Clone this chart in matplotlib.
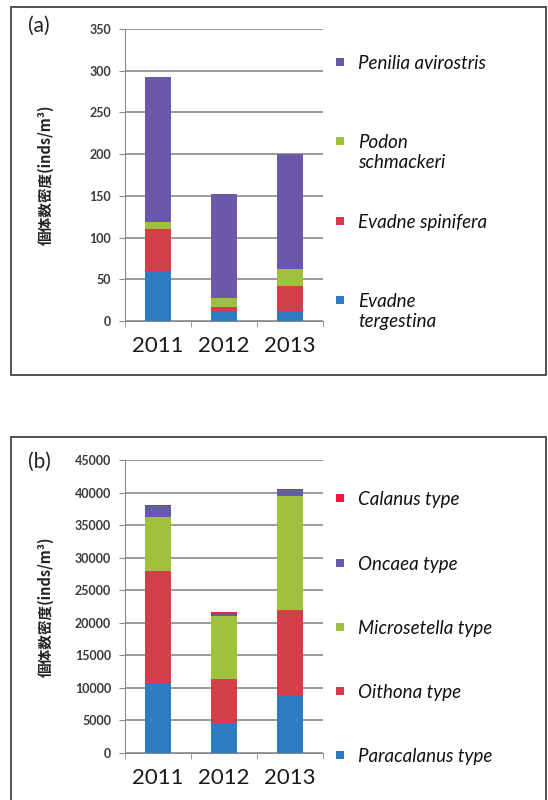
import numpy as np
import matplotlib.pyplot as plt
from matplotlib.patches import Rectangle

years = ['2011', '2012', '2013']

# (a) Cladocera
names_a = ['Evadne tergestina', 'Evadne spinifera', 'Podon schmackeri', 'Penilia avirostris']
labels_a = ['Evadne\ntergestina', 'Evadne spinifera', 'Podon\nschmackeri', 'Penilia avirostris']
evadne_tergestina = [60, 12, 12]
evadne_spinifera = [50, 5, 30]
podon_schmackeri = [9, 11, 20]
penilia_avirostris = [174, 124, 138]
colors_a = ['#2b7cc0', '#d23f47', '#9fc13d', '#6a58a8']

# (b) Copepoda
names_b = ['Paracalanus type', 'Oithona type', 'Microsetella type', 'Oncaea type', 'Calanus type']
paracalanus = [10800, 4600, 8700]
oithona = [17200, 6700, 13300]
microsetella = [8200, 9700, 17400]
oncaea = [1800, 400, 1000]
calanus = [150, 300, 200]
colors_b = ['#2b7cc0', '#d23f47', '#9fc13d', '#6a58a8', '#ec1c3a']

W, H = 548, 800
fig = plt.figure(figsize=(W / 100, H / 100), dpi=100)
plt.rcParams['font.family'] = ['Lato', 'DejaVu Sans']

def fx(px):
    return px / W

def fy(py):
    return 1 - py / H

def panel(ax, series, colors, ymax, step, tag, tag_y, frame_top, frame_bot):
    x = np.arange(len(years))
    bottom = np.zeros(len(years))
    for vals, c in zip(series, colors):
        ax.bar(x, vals, width=0.39, bottom=bottom, color=c, zorder=3)
        bottom += np.array(vals)
    ax.set_xlim(-0.5, 2.5)
    ax.set_ylim(0, ymax)
    ax.set_yticks(np.arange(0, ymax + 1, step))
    ax.yaxis.grid(True, color='#7f7f7f', lw=1.1)
    ax.set_axisbelow(True)
    for s in ['top', 'right']:
        ax.spines[s].set_visible(False)
    for s in ['left', 'bottom']:
        ax.spines[s].set_color('#8c8c8c')
    ax.set_xticks(x)
    ax.set_xticklabels(years, fontsize=16, color='#1a1a1a')
    ax.tick_params(axis='x', length=0, pad=11)
    ax.set_xticks([-0.5, 0.5, 1.5, 2.5], minor=True)
    ax.tick_params(axis='x', which='minor', length=4, color='#8c8c8c', direction='out')
    ax.tick_params(axis='y', length=4, color='#8c8c8c', labelsize=9, labelcolor='#3a3a3a', pad=6)
    for t in ax.get_yticklabels():
        t.set_fontweight('bold')
    ax.set_ylabel('個体数密度(inds/m³)', fontsize=10.5, fontweight='bold',
                  family=['Noto Sans CJK JP', 'DejaVu Sans'], color='#222222')
    fig.text(fx(39), fy(tag_y), tag, fontsize=15, ha='center', va='center', color='#222222')
    fig.add_artist(Rectangle((fx(11), fy(frame_bot)), fx(546) - fx(11), fy(frame_top) - fy(frame_bot),
                             transform=fig.transFigure, fill=False, ec='#444444', lw=1.3))

def legend(labels, colors, ys):
    for lab, c, y in zip(labels, colors, ys):
        fig.add_artist(Rectangle((fx(336), fy(y + 4)), fx(8), 8 / H, transform=fig.transFigure,
                                 color=c, lw=0))
        fig.text(fx(358), fy(y - 7), lab, fontsize=13.5, style='italic', ha='left', va='top',
                 color='#111111', linespacing=1.25)

ax1 = fig.add_axes([fx(125), fy(321), fx(323) - fx(125), fy(29) - fy(321)])
panel(ax1, [evadne_tergestina, evadne_spinifera, podon_schmackeri, penilia_avirostris],
      colors_a, 350, 50, '(a)', 26, 7, 375)
ax1.yaxis.set_label_coords(fx(54), 0.5 * (fy(321) + fy(29)), transform=fig.transFigure)
legend(labels_a[::-1], colors_a[::-1], [62, 141, 221, 300])

ax2 = fig.add_axes([fx(125), fy(753), fx(323) - fx(125), fy(460) - fy(753)])
panel(ax2, [paracalanus, oithona, microsetella, oncaea, calanus],
      colors_b, 45000, 5000, '(b)', 462, 437, 802)
ax2.yaxis.set_label_coords(fx(54), 0.5 * (fy(753) + fy(460)), transform=fig.transFigure)
legend(names_b[::-1], colors_b[::-1], [498, 563, 627, 691, 755])

fig.savefig('out.png', dpi=100)
